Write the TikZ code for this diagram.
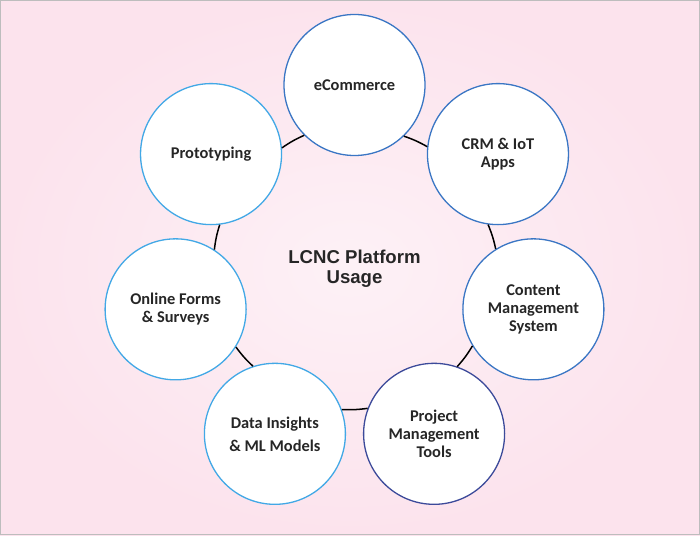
\documentclass[tikz,border=0pt]{standalone}
\usepackage{fontspec}
\setmainfont{Carlito}
\newfontfamily\arialfont{Liberation Sans}
\usepackage{tikz}
\usetikzlibrary{positioning}

\definecolor{bgin}{HTML}{FDF1F6}
\definecolor{bgout}{HTML}{FCE3ED}
\definecolor{frame}{HTML}{BDBDBD}
\definecolor{midblue}{HTML}{3A76C4}
\definecolor{navy}{HTML}{3C4A9A}
\definecolor{skyblue}{HTML}{42A8E6}
\definecolor{textgray}{HTML}{262626}

\begin{document}
\begin{tikzpicture}[line width=1.3pt, main/.style = {draw, circle, fill=white, minimum size=141pt, inner sep=0pt, align=center, text=textgray, font=\fontsize{16.4}{18}\selectfont\bfseries}, ring/.style = {black, line width=1.5pt, bend left=5.2}]
\useasboundingbox (-354.5pt,-266.5pt) rectangle (345.5pt,268.5pt);
\shade[inner color=bgin, outer color=bgout] (-354.5pt,-266.5pt) rectangle (345.5pt,268.5pt);
\draw[frame, line width=1.5pt] (-353.75pt,-265.75pt) rectangle (344.75pt,267.75pt);
\node[text=textgray, align=center, font=\arialfont\fontsize{18.6}{20.3}\selectfont\bfseries] (c) at (0,0) {LCNC Platform\\Usage};
\node[main, draw=midblue] (1) at (90:183.5pt) {eCommerce};
\node[main, draw=midblue] (2) at (38.57:183.5pt) {CRM \& IoT\\Apps};
\node[main, draw=midblue] (3) at (-12.86:183.5pt) {Content\\Management\\System};
\node[main, draw=navy] (4) at (-64.29:183.5pt) {Project\\Management\\Tools};
\node[main, draw=skyblue] (5) at (-115.71:183.5pt) {Data Insights\\[5pt]\& ML Models};
\node[main, draw=skyblue] (6) at (-167.14:183.5pt) {Online Forms\\\& Surveys};
\node[main, draw=skyblue] (7) at (141.43:183.5pt) {Prototyping};
\draw[ring] (1.314.2) to (2.174.37);
\draw[ring] (2.262.77) to (3.122.94);
\draw[ring] (3.211.34) to (4.71.51);
\draw[ring] (4.159.91) to (5.20.09);
\draw[ring] (5.108.49) to (6.328.66);
\draw[ring] (6.57.06) to (7.277.23);
\draw[ring] (7.5.63) to (1.225.8);
\end{tikzpicture}
\end{document}
